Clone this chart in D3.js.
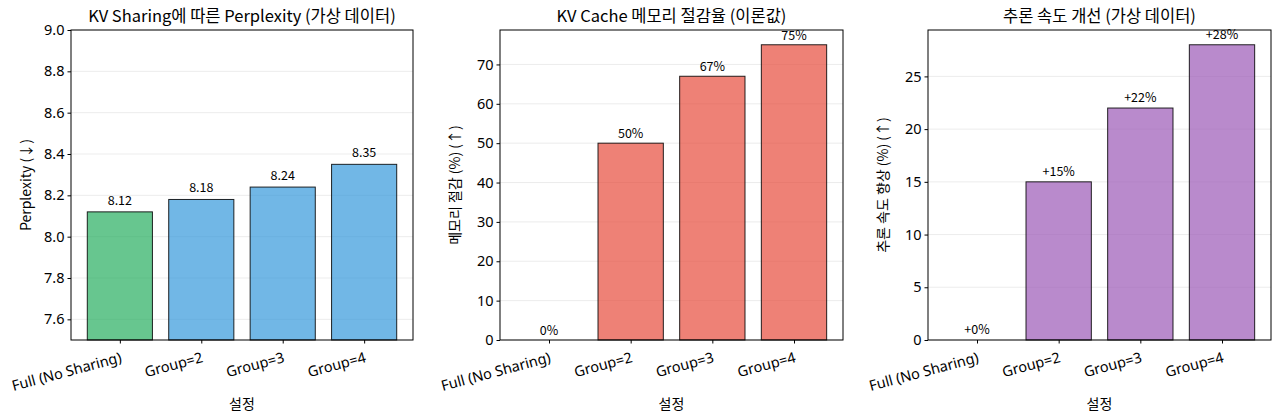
<!DOCTYPE html>
<html>
<head>
<meta charset="utf-8">
<script src="https://cdn.jsdelivr.net/npm/d3@7"></script>
<style>
  body { margin: 0; background: #fff; }
  svg { font-family: "Noto Sans CJK KR", "Noto Sans", sans-serif; }
</style>
</head>
<body>
<div id="chart"></div>
<script>
// three bar panels, KV sharing comparison

const categories = ["Full (No Sharing)", "Group=2", "Group=3", "Group=4"];

const perplexity = [8.12, 8.18, 8.24, 8.35];
const memorySaving = [0, 50, 67, 75];
const speedUp = [0, 15, 22, 28];

const perplexityTicks = [7.6, 7.8, 8.0, 8.2, 8.4, 8.6, 8.8, 9.0];
const memoryTicks = [0, 10, 20, 30, 40, 50, 60, 70];
const speedTicks = [0, 5, 10, 15, 20, 25];

const titles = ["KV Sharing에 따른 Perplexity (가상 데이터)", "KV Cache 메모리 절감율 (이론값)", "추론 속도 개선 (가상 데이터)"];
const yLabels = ["Perplexity (↓)", "메모리 절감 (%) (↑)", "추론 속도 향상 (%) (↑)"];
const xLabel = "설정";

let W = 1280, H = 419;
let svg = d3.select("#chart").append("svg").attr("width", W).attr("height", H);

let panels = [
  { left: 71, right: 413, values: perplexity, domain: [7.5, 9.0], ticks: perplexityTicks,
    fmt: d3.format(".1f"), colors: ["#27ae60", "#3498db", "#3498db", "#3498db"],
    label: d => d.toFixed(2), labelOffset: 0.02 },
  { left: 500, right: 843, values: memorySaving, domain: [0, 75 * 1.05], ticks: memoryTicks,
    fmt: d3.format("d"), colors: ["#e74c3c", "#e74c3c", "#e74c3c", "#e74c3c"],
    label: d => d + "%", labelOffset: 0.5 },
  { left: 928, right: 1271, values: speedUp, domain: [0, 28 * 1.05], ticks: speedTicks,
    fmt: d3.format("d"), colors: ["#9b59b6", "#9b59b6", "#9b59b6", "#9b59b6"],
    label: d => "+" + d + "%", labelOffset: 0.3 }
];

let plotTop = 30, plotBottom = 340;

panels.forEach(function(p, i) {
  let g = svg.append("g");
  let x = d3.scaleLinear().domain([-0.6, categories.length - 0.4]).range([p.left, p.right]);
  let y = d3.scaleLinear().domain(p.domain).range([plotBottom, plotTop]);
  let bw = x(0.4) - x(-0.4);

  // grid
  g.selectAll("line.grid").data(p.ticks).enter().append("line")
    .attr("x1", p.left).attr("x2", p.right)
    .attr("y1", d => y(d)).attr("y2", d => y(d))
    .attr("stroke", "#b0b0b0").attr("stroke-opacity", 0.3).attr("stroke-width", 0.8);

  // bars
  g.selectAll("rect.bar").data(p.values).enter().append("rect")
    .attr("x", (d, j) => x(j) - bw / 2)
    .attr("y", d => y(Math.max(d, p.domain[0])))
    .attr("width", bw)
    .attr("height", d => Math.max(0, y(p.domain[0]) - y(d)))
    .attr("fill", (d, j) => p.colors[j]).attr("fill-opacity", 0.7)
    .attr("stroke", "#000").attr("stroke-width", 1).attr("stroke-opacity", (d) => d > p.domain[0] ? 0.85 : 0);

  // value labels
  g.selectAll("text.val").data(p.values).enter().append("text")
    .attr("x", (d, j) => x(j))
    .attr("y", d => y(d + p.labelOffset) - 3)
    .attr("text-anchor", "middle")
    .attr("font-size", 12.5)
    .text(d => p.label(d));

  // axes
  let yAxis = d3.axisLeft(y).tickValues(p.ticks).tickFormat(p.fmt).tickSize(3.5).tickPadding(3);
  let ya = g.append("g").attr("transform", "translate(" + p.left + ",0)").call(yAxis);
  ya.select(".domain").remove();
  ya.selectAll("text").attr("font-size", 14.5).attr("fill", "#000").attr("font-family", "Noto Sans, sans-serif");
  ya.selectAll("line").attr("stroke", "#000");

  let xAxis = d3.axisBottom(x).tickValues(d3.range(categories.length)).tickFormat(j => categories[j]).tickSize(3.5).tickPadding(3);
  let xa = g.append("g").attr("transform", "translate(0," + plotBottom + ")").call(xAxis);
  xa.select(".domain").remove();
  xa.selectAll("line").attr("stroke", "#000");
  xa.selectAll("text")
    .attr("font-size", 14.5).attr("fill", "#000")
    .attr("font-family", "Noto Sans, sans-serif")
    .attr("text-anchor", "end")
    .attr("dy", "0.9em")
    .attr("transform", "translate(-3,3) rotate(-15)");

  // frame
  g.append("rect").attr("x", p.left).attr("y", plotTop)
    .attr("width", p.right - p.left).attr("height", plotBottom - plotTop)
    .attr("fill", "none").attr("stroke", "#000").attr("stroke-width", 1);

  // title & labels
  g.append("text").attr("x", (p.left + p.right) / 2).attr("y", plotTop - 8)
    .attr("text-anchor", "middle").attr("font-size", 16.5).attr("font-weight", 400)
    .text(titles[i]);

  g.append("text").attr("x", (p.left + p.right) / 2).attr("y", 409)
    .attr("text-anchor", "middle").attr("font-size", 14)
    .text(xLabel);

  g.append("text")
    .attr("transform", "translate(" + (p.left - 40) + "," + ((plotTop + plotBottom) / 2) + ") rotate(-90)")
    .attr("text-anchor", "middle").attr("font-size", 14)
    .text(yLabels[i]);
});
</script>
</body>
</html>
